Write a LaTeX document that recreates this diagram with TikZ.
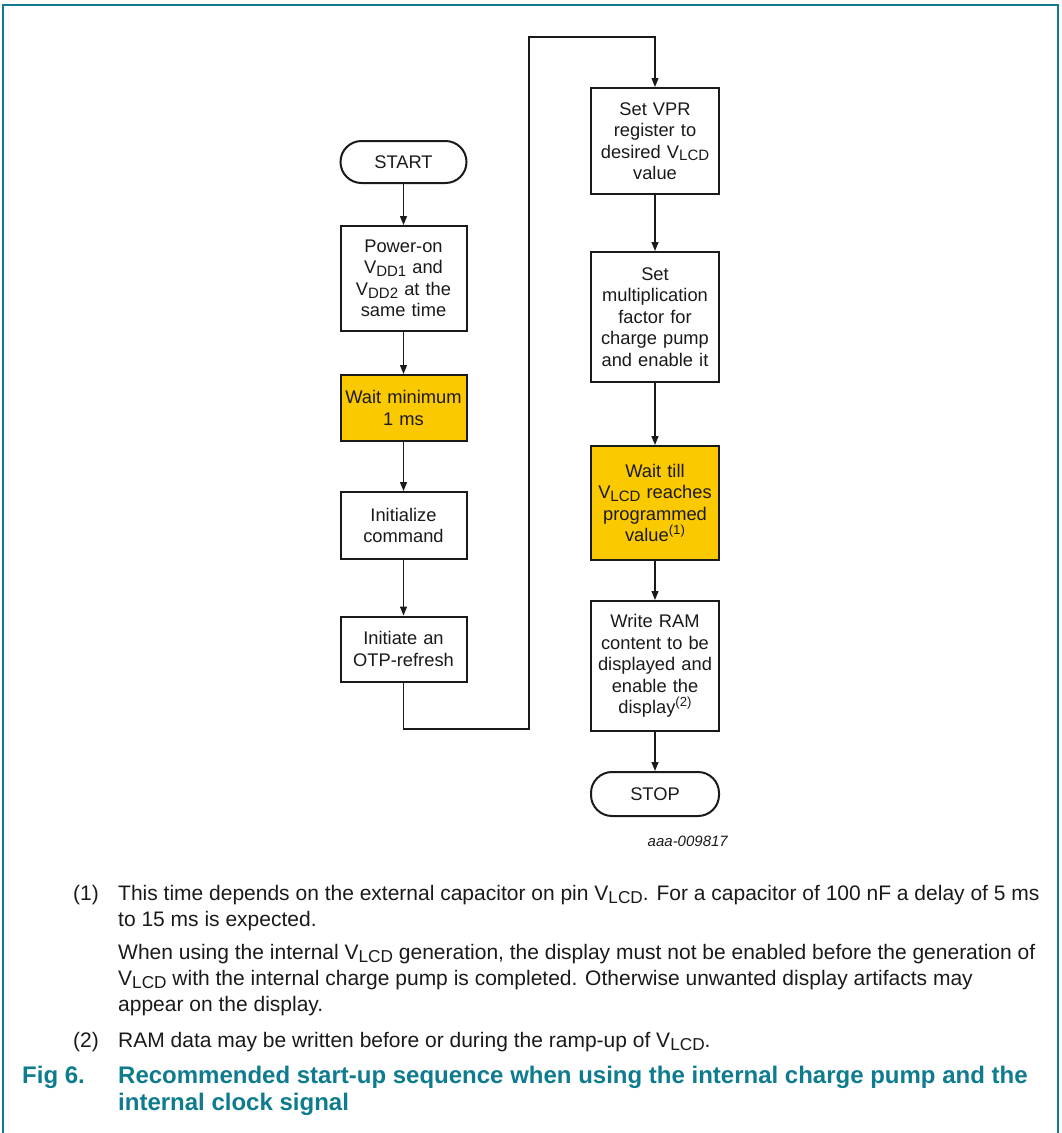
\documentclass[tikz,border=0pt]{standalone}
\usepackage{fontspec}
\setmainfont{Liberation Sans}
\usepackage{graphicx}
\usepackage{xcolor}
\usetikzlibrary{arrows.meta}
\definecolor{ink}{HTML}{1A1A1A}
\definecolor{waitgold}{HTML}{FBC900}
\definecolor{figteal}{HTML}{0E7C8E}
\newcommand{\lowtxt}[1]{\raisebox{-0.28ex}{\scalebox{0.82}{#1}}}
\newcommand{\uptxt}[1]{\raisebox{0.75ex}{\scalebox{0.72}{#1}}}
\newcommand{\boxfont}{\fontsize{18.3}{21.5}\selectfont}
\newcommand{\notefont}{\fontsize{21}{26}\selectfont}
\tikzset{
  stepbox/.style={draw=ink, line width=2pt, fill=white, minimum width=126pt, text width=120pt, align=center, inner sep=0pt, text=ink, font=\boxfont},
  waitbox/.style={stepbox, fill=waitgold},
  termbox/.style={draw=ink, line width=2pt, rounded corners=21pt, minimum width=126pt, minimum height=42pt, text=ink, font=\boxfont},
  flow/.style={draw=ink, line width=1.2pt, -{Triangle[length=9pt,width=7pt]}},
  note/.style={anchor=base west, inner sep=0pt, align=left, text=ink, font=\notefont},
  capt/.style={anchor=base west, inner sep=0pt, align=left, text=figteal, font=\fontsize{24}{27}\selectfont\bfseries}
}

\begin{document}
\begin{tikzpicture}[x=1pt, y=-1pt]
  \useasboundingbox (0,0) rectangle (1061,1133);
  \draw[figteal, line width=1.5pt] (3,1133) -- (3,5) -- (1058,5) -- (1058,1133);

  % left column
  \node[termbox] (start) at (403.5,162) {START};
  \node[stepbox, minimum height=105pt] (power) at (403.5,278.5) {Power-on\\V\lowtxt{DD1} and\\V\lowtxt{DD2} at the\\same time};
  \node[waitbox, minimum height=66pt] (wait) at (403.5,408) {Wait minimum\\1 ms};
  \node[stepbox, minimum height=67pt] (init) at (403.5,525.5) {Initialize\\command};
  \node[stepbox, minimum height=65pt] (otp) at (403.5,649) {Initiate an\\OTP-refresh};

  % right column
  \node[stepbox, minimum width=128pt, minimum height=106pt] (vpr) at (655,141) {Set VPR\\register to\\desired V\lowtxt{LCD}\\value};
  \node[stepbox, minimum width=128pt, minimum height=130pt] (mult) at (655,317) {Set\\multiplication\\factor for\\charge pump\\and enable it};
  \node[waitbox, minimum width=128pt, minimum height=114pt] (settle) at (655,503) {Wait till\\V\lowtxt{LCD} reaches\\programmed\\value\uptxt{(1)}};
  \node[stepbox, minimum width=128pt, minimum height=130pt] (ram) at (655,666) {Write RAM\\content to be\\displayed and\\enable the\\display\uptxt{(2)}};
  \node[termbox, minimum width=128pt, minimum height=44pt] (stop) at (655,794) {STOP};
  \node[anchor=base east, inner sep=0pt, text=ink, font=\fontsize{15}{15}\selectfont\itshape] (docid) at (728,846) {aaa-009817};

  % connectors
  \draw[flow] (start) -- (power);
  \draw[flow] (power) -- (wait);
  \draw[flow] (wait) -- (init);
  \draw[flow] (init) -- (otp);
  \coordinate (turnlo) at (403.5,729);
  \coordinate (turnhi) at (529,37);
  \draw[flow] (otp.south) -- (turnlo) -| (turnhi) -| (vpr.north);
  \draw[flow] (vpr) -- (mult);
  \draw[flow] (mult) -- (settle);
  \draw[flow] (settle) -- (ram);
  \draw[flow] (ram) -- (stop);

  % notes (base = last line)
  \node[note] (n1) at (73,900) {(1)};
  \node[note] (n1a) at (118,926) {This time depends on the external capacitor on pin V\lowtxt{LCD}. For a capacitor of 100 nF a delay of 5 ms\\to 15 ms is expected.};
  \node[note] (n1b) at (118,1011) {When using the internal V\lowtxt{LCD} generation, the display must not be enabled before the generation of\\V\lowtxt{LCD} with the internal charge pump is completed. Otherwise unwanted display artifacts may\\appear on the display.};
  \node[note] (n2) at (73,1047) {(2)};
  \node[note] (n2a) at (118,1047) {RAM data may be written before or during the ramp-up of V\lowtxt{LCD}.};

  % caption
  \node[capt] (fignum) at (22,1083) {Fig 6.};
  \node[capt] (figtext) at (118,1110) {Recommended start-up sequence when using the internal charge pump and the\\internal clock signal};
\end{tikzpicture}
\end{document}
